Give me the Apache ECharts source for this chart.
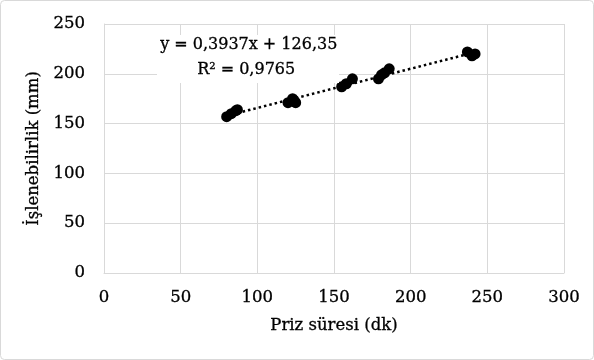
<!DOCTYPE html>
<html><head><meta charset="utf-8">
<script src="https://cdn.jsdelivr.net/npm/echarts@6/dist/echarts.min.js"></script>
<style>html,body{margin:0;padding:0;background:#fff}#c{width:594px;height:360px}</style>
</head><body><div id="c"></div>
<script>
const prizSuresi = [80, 83, 86, 87, 120, 123, 124, 125, 155, 158, 162, 179, 181, 183, 186, 237, 240, 242];
const islenebilirlik = [157, 160, 163, 164, 171, 175, 173, 171, 187, 190, 195, 195, 199, 201, 205, 222, 218, 220];
const trendSlope = 0.3937;
const trendIntercept = 126.35;
const xTicks = [0, 50, 100, 150, 200, 250, 300];
const yTicks = [0, 50, 100, 150, 200, 250];
const eqText = 'y = 0,3937x + 126,35';
const r2Text = 'R² = 0,9765';

const pts = prizSuresi.map((x, i) => [x, islenebilirlik[i]]);
const xmin = Math.min(...prizSuresi), xmax = Math.max(...prizSuresi);
const trend = [[xmin, trendSlope * xmin + trendIntercept], [xmax, trendSlope * xmax + trendIntercept]];
const font = 'DejaVu Serif';
const ink = {textBorderColor: '#000', textBorderWidth: 0.3};
const chart = echarts.init(document.getElementById('c'));
chart.setOption({
  animation: false,
  backgroundColor: '#fff',
  grid: {left: 104, right: 30, top: 24, bottom: 87},
  graphic: [
    {type: 'rect', shape: {x: 0.5, y: 0.5, width: 593, height: 359, r: 4}, style: {fill: 'none', stroke: '#d9d9d9', lineWidth: 1}, silent: true},
    {type: 'rect', shape: {x: 157, y: 35, width: 182, height: 48}, z: 9, style: {fill: '#fff', stroke: null}, silent: true},
    {type: 'text', left: 160, top: 37, z: 10, style: {text: eqText, font: '16px "' + font + '"', fill: '#000', stroke: '#000', lineWidth: 0.3}},
    {type: 'text', left: 197, top: 62, z: 10, style: {text: r2Text, font: '16px "' + font + '"', fill: '#000', stroke: '#000', lineWidth: 0.3}}
  ],
  xAxis: {
    type: 'value', min: 0, max: 300, interval: 50,
    name: 'Priz süresi (dk)', nameLocation: 'middle', nameGap: 44,
    nameTextStyle: Object.assign({fontFamily: font, fontSize: 16.5, color: '#000'}, ink),
    axisLine: {show: true, lineStyle: {color: '#d9d9d9'}},
    axisTick: {show: false},
    axisLabel: Object.assign({fontFamily: font, fontSize: 16.5, color: '#000', margin: 16,
      formatter: v => xTicks.includes(v) ? String(v) : ''}, ink),
    splitLine: {show: true, lineStyle: {color: '#d9d9d9'}}
  },
  yAxis: {
    type: 'value', min: 0, max: 250, interval: 50,
    name: 'İşlenebilirlik (mm)', nameLocation: 'middle', nameGap: 62,
    nameTextStyle: Object.assign({fontFamily: font, fontSize: 16.5, color: '#000'}, ink),
    axisLine: {show: true, lineStyle: {color: '#d9d9d9'}},
    axisTick: {show: false},
    axisLabel: Object.assign({fontFamily: font, fontSize: 16.5, color: '#000', margin: 19,
      formatter: v => yTicks.includes(v) ? String(v) : ''}, ink),
    splitLine: {show: true, lineStyle: {color: '#d9d9d9'}}
  },
  series: [
    {type: 'line', data: trend, symbol: 'none', z: 1,
      lineStyle: {color: '#000', width: 2.5, type: [2.5, 3]}},
    {type: 'scatter', data: pts, symbolSize: 11, z: 2, itemStyle: {color: '#000', opacity: 1}}
  ]
});
</script></body></html>
